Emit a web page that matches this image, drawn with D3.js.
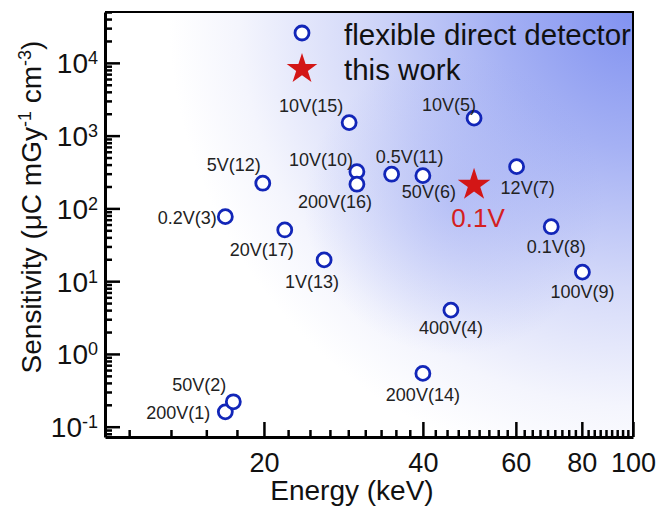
<!DOCTYPE html>
<html>
<head>
<meta charset="utf-8">
<script src="https://cdn.jsdelivr.net/npm/d3@7"></script>
<style>
  body { margin: 0; background: #fff; }
  svg { display: block; font-family: "Liberation Sans", Arial, sans-serif; }
  .axis path, .axis line { stroke: #000; }
</style>
</head>
<body>
<svg id="chart" width="660" height="515"></svg>
<script>
// data
var labels = ["200V(1)", "50V(2)", "0.2V(3)", "400V(4)", "10V(5)", "50V(6)", "12V(7)", "0.1V(8)", "100V(9)",
              "10V(10)", "0.5V(11)", "5V(12)", "1V(13)", "200V(14)", "10V(15)", "200V(16)", "20V(17)"];
var energy = [16.9, 17.5, 16.9, 45.2, 50, 40, 60.2, 70, 80.2, 30, 34.9, 19.9, 26, 40, 29, 30, 21.9];
var sensitivity = [0.16, 0.22, 77, 4.0, 1740, 282, 375, 56, 13.3, 320, 295, 222, 19.6, 0.54, 1510, 215, 50.6];

var thisWorkEnergy = [50];
var thisWorkSensitivity = [210];
var thisWorkLabel = ["0.1V"];

var xTickValues = [20, 40, 60, 80, 100];
var yTickExponents = [-1, 0, 1, 2, 3, 4];

// label placement (px from the marker centre)
var labelOffsets = [[-47, 1], [-34, -17], [-38, 1], [0, 18], [-25, -13], [6, 16], [11, 21], [5, 20], [0, 20],
                    [-36, -12], [18, -17], [-29, -18], [-12, 22], [0, 22], [-38, -17], [-22, 18], [-23, 20]];

var svg = d3.select("#chart"),
    margin = {left: 105, right: 27, top: 12, bottom: 78},
    width = +svg.attr("width") - margin.left - margin.right,
    height = +svg.attr("height") - margin.top - margin.bottom;

var x = d3.scaleLog()
    .domain([10, 100])
    .range([0, width]);

var y = d3.scaleLog()
    .domain([0.0722, 50000])
    .range([height, 0]);

var g = svg.append("g")
    .attr("transform", "translate(" + margin.left + "," + margin.top + ")");

// background
var defs = svg.append("defs");
var grad = defs.append("radialGradient")
    .attr("id", "bg")
    .attr("gradientUnits", "userSpaceOnUse")
    .attr("cx", width + 5).attr("cy", -5).attr("r", 470);
[[0, "#7f90f0"], [0.3, "#a5b1f4"], [0.6, "#d5daf9"], [0.85, "#f4f5fd"], [1, "#ffffff"]].forEach(function(s) {
  grad.append("stop").attr("offset", s[0]).attr("stop-color", s[1]);
});

var glow = defs.append("radialGradient")
    .attr("id", "glow")
    .attr("gradientUnits", "userSpaceOnUse")
    .attr("cx", x(thisWorkEnergy[0]) - 20).attr("cy", y(thisWorkSensitivity[0]) + 20).attr("r", 150);
glow.append("stop").attr("offset", 0).attr("stop-color", "#8f9ef2").attr("stop-opacity", 0.4);
glow.append("stop").attr("offset", 1).attr("stop-color", "#8f9ef2").attr("stop-opacity", 0);

g.append("rect")
    .attr("width", width).attr("height", height)
    .attr("fill", "url(#bg)");
g.append("rect")
    .attr("width", width).attr("height", height)
    .attr("fill", "url(#glow)");

// frame (top / right)
g.append("path")
    .attr("d", "M0,0H" + width + "V" + height)
    .attr("fill", "none")
    .attr("stroke", "#000")
    .attr("stroke-width", 2);

// x axis
var xMinor = d3.range(5, 45).filter(function(k) { return k % 9 !== 0; }).map(function(k) { return 20 * k / 9; });

g.append("g")
    .attr("class", "axis")
    .attr("transform", "translate(0," + height + ")")
    .call(d3.axisBottom(x).tickValues(xMinor).tickSize(-7).tickSizeOuter(0).tickFormat(""))
    .call(function(s) { s.select(".domain").remove(); s.selectAll("line").attr("stroke-width", 2.5); });

g.append("g")
    .attr("class", "axis")
    .attr("transform", "translate(0," + height + ")")
    .call(d3.axisBottom(x).tickValues(xTickValues).tickSize(-15).tickSizeOuter(0).tickFormat(d3.format("d")))
    .call(function(s) {
      s.select(".domain").attr("stroke-width", 3);
      s.selectAll("line").attr("stroke-width", 2.5);
      s.selectAll("text")
        .attr("y", 0).attr("dy", null)
        .attr("transform", "translate(0,35)")
        .attr("fill", "#111")
        .style("font-size", "27px");
    });

// y axis
var yMinor = y.ticks().filter(function(d) { return Math.abs(Math.log10(d) - Math.round(Math.log10(d))) > 1e-6; });

g.append("g")
    .attr("class", "axis")
    .call(d3.axisLeft(y).tickValues(yMinor).tickSize(-7).tickSizeOuter(0).tickFormat(""))
    .call(function(s) { s.select(".domain").remove(); s.selectAll("line").attr("stroke-width", 2.5); });

var yAxis = g.append("g")
    .attr("class", "axis")
    .call(d3.axisLeft(y).tickValues(yTickExponents.map(function(e) { return Math.pow(10, e); }))
      .tickSize(-15).tickSizeOuter(0).tickFormat(""));
yAxis.select(".domain").attr("stroke-width", 3);
yAxis.selectAll("line").attr("stroke-width", 2.5);

var yLab = yAxis.selectAll(".tick").append("text")
    .data(yTickExponents)
    .attr("x", -7)
    .attr("y", 10)
    .attr("text-anchor", "end")
    .attr("fill", "#111")
    .style("font-size", "28px");
yLab.append("tspan").text("10");
yLab.append("tspan")
    .attr("dy", -9)
    .style("font-size", "18px")
    .text(function(d) { return d < 0 ? "-" + Math.abs(d) : d; });

// axis titles
svg.append("text")
    .attr("x", 352)
    .attr("y", 500)
    .attr("text-anchor", "middle")
    .attr("fill", "#111")
    .style("font-size", "28px")
    .text("Energy (keV)");

var yt = svg.append("text")
    .attr("transform", "translate(41,207) rotate(-90)")
    .attr("text-anchor", "middle")
    .attr("fill", "#111")
    .style("font-size", "28px");
yt.append("tspan").text("Sensitivity (\u03bcC mGy");
yt.append("tspan").attr("dy", -10).style("font-size", "18px").text("-1");
yt.append("tspan").attr("dy", 10).text(" cm");
yt.append("tspan").attr("dy", -10).style("font-size", "18px").text("-3");
yt.append("tspan").attr("dy", 10).text(")");

// points
var pts = labels.map(function(l, i) {
  return {label: l, e: energy[i], s: sensitivity[i], off: labelOffsets[i]};
});

g.selectAll(".pt")
    .data(pts)
  .enter().append("circle")
    .attr("class", "pt")
    .attr("cx", function(d) { return x(d.e); })
    .attr("cy", function(d) { return y(d.s); })
    .attr("r", 7)
    .attr("fill", "#fff")
    .attr("stroke", "#1226b8")
    .attr("stroke-width", 2.8);

g.selectAll(".pl")
    .data(pts)
  .enter().append("text")
    .attr("class", "pl")
    .attr("x", function(d) { return x(d.e) + d.off[0]; })
    .attr("y", function(d) { return y(d.s) + d.off[1] + 6; })
    .attr("text-anchor", "middle")
    .attr("fill", "#222")
    .style("font-size", "18px")
    .text(function(d) { return d.label; });

// this work
var star = d3.symbol().type(d3.symbolStar);

g.selectAll(".tw")
    .data(thisWorkEnergy)
  .enter().append("path")
    .attr("class", "tw")
    .attr("transform", function(d, i) { return "translate(" + x(d) + "," + y(thisWorkSensitivity[i]) + ")"; })
    .attr("d", star.size(330))
    .attr("fill", "#d31616");

g.selectAll(".twl")
    .data(thisWorkEnergy)
  .enter().append("text")
    .attr("class", "twl")
    .attr("x", function(d) { return x(d) + 4; })
    .attr("y", function(d, i) { return y(thisWorkSensitivity[i]) + 42; })
    .attr("text-anchor", "middle")
    .attr("fill", "#d42020")
    .style("font-size", "26px")
    .text(function(d, i) { return thisWorkLabel[i]; });

// legend
var legend = svg.append("g");
legend.append("circle")
    .attr("cx", 302).attr("cy", 33).attr("r", 7)
    .attr("fill", "#fff")
    .attr("stroke", "#1226b8")
    .attr("stroke-width", 2.8);
legend.append("path")
    .attr("transform", "translate(302,69)")
    .attr("d", star.size(290))
    .attr("fill", "#d31616");
legend.append("text")
    .attr("x", 344).attr("y", 45)
    .attr("fill", "#111")
    .style("font-size", "29.5px")
    .text("flexible direct detector");
legend.append("text")
    .attr("x", 344).attr("y", 80)
    .attr("fill", "#111")
    .style("font-size", "29.5px")
    .text("this work");
</script>
</body>
</html>
